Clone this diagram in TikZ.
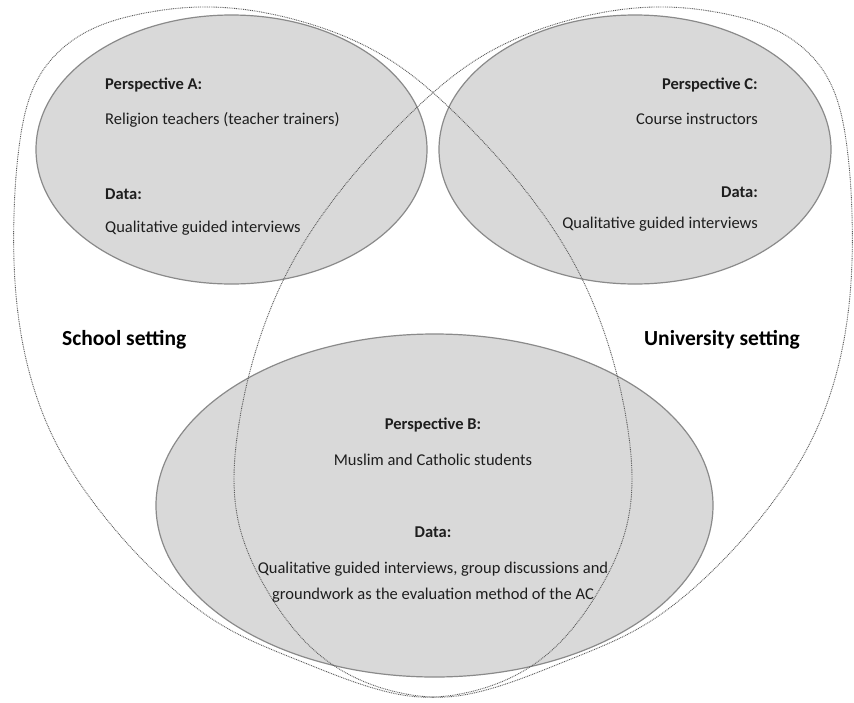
\documentclass[tikz,border=0pt]{standalone}
\usepackage{fontspec}
\setmainfont{Carlito}
\usetikzlibrary{shapes.geometric,hobby}

\definecolor{bubblefill}{HTML}{D9D9D9}
\definecolor{bubbleline}{HTML}{8A8A8A}
\definecolor{dotgray}{HTML}{5A5A5A}
\definecolor{txt}{HTML}{1E1E1E}

\tikzset{
  bubble/.style={ellipse, draw=bubbleline, fill=bubblefill, line width=1.2pt, inner sep=0pt},
  settingline/.style={draw=dotgray, line width=0.9pt, dash pattern=on 0.9pt off 0.9pt},
  body/.style={inner sep=0pt, text=txt, font=\fontsize{16.5}{26}\selectfont},
  head/.style={inner sep=0pt, text=txt, font=\fontsize{16.5}{26}\selectfont\bfseries},
  setting/.style={inner sep=0pt, text=black, font=\fontsize{21.5}{26}\selectfont\bfseries}
}

\begin{document}
\begin{tikzpicture}[x=1pt,y=-1pt]
  \useasboundingbox (0,0) rectangle (854,702);
  \fill[white] (0,0) rectangle (854,702);

  % perspective bubbles
  \node[bubble, minimum width=391pt, minimum height=269pt] (bubA) at (231.5,149.5) {};
  \node[bubble, minimum width=392pt, minimum height=269pt] (bubC) at (635,149.5) {};
  \node[bubble, minimum width=557pt, minimum height=343pt] (bubB) at (434.5,505.5) {};

  % school setting outline
  \draw[settingline] plot[closed hobby] coordinates {
    (200,7) (300,21) (387,58) (460,118) (525,190) (575,265) (610,350)
    (628,430) (628,520) (598,592) (540,660) (460,694) (420,697) (380,690)
    (300,661) (225,627) (160,577) (100,511) (58,447) (30,375) (16,295)
    (14,215) (20,140) (40,75) (90,30) (140,14)};

  % university setting outline (mirror of the school outline)
  \begin{scope}[shift={(866,0)}, xscale=-1]
  \draw[settingline] plot[closed hobby] coordinates {
    (200,7) (300,21) (387,58) (460,118) (525,190) (575,265) (610,350)
    (628,430) (628,520) (598,592) (540,660) (460,694) (420,697) (380,690)
    (300,661) (225,627) (160,577) (100,511) (58,447) (30,375) (16,295)
    (14,215) (20,140) (40,75) (90,30) (140,14)};
  \end{scope}

  % perspective A
  \node[head, anchor=base west] (aHead) at (105,89) {Perspective A:};
  \node[body, anchor=base west] (aWho) at (105,124) {Religion teachers (teacher trainers)};
  \node[head, anchor=base west] (aData) at (105,199) {Data:};
  \node[body, anchor=base west] (aHow) at (105,232) {Qualitative guided interviews};

  % perspective C
  \node[head, anchor=base east] (cHead) at (758,89) {Perspective C:};
  \node[body, anchor=base east] (cWho) at (758,124) {Course instructors};
  \node[head, anchor=base east] (cData) at (758,197) {Data:};
  \node[body, anchor=base east] (cHow) at (758,228) {Qualitative guided interviews};

  % perspective B
  \node[head, anchor=base] (bHead) at (433,429) {Perspective B:};
  \node[body, anchor=base] (bWho) at (433,465) {Muslim and Catholic students};
  \node[head, anchor=base] (bData) at (433,537) {Data:};
  \node[body, anchor=base] (bHow1) at (433,573) {Qualitative guided interviews, group discussions and};
  \node[body, anchor=base] (bHow2) at (433,599) {groundwork as the evaluation method of the AC};

  % setting labels
  \node[setting, anchor=base west] (school) at (62,345) {School setting};
  \node[setting, anchor=base west] (uni) at (644,345) {University setting};
\end{tikzpicture}
\end{document}
